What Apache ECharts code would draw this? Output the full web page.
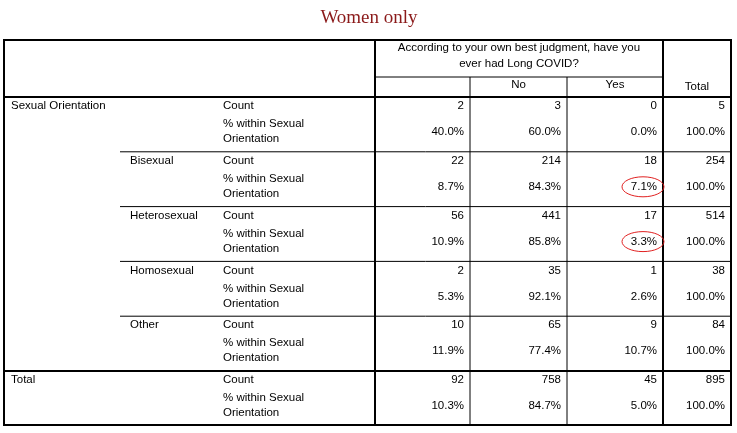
<!DOCTYPE html>
<html><head><meta charset="utf-8">
<script src="https://cdn.jsdelivr.net/npm/echarts@6/dist/echarts.min.js"></script>
<style>html,body{margin:0;padding:0;background:#fff}#c{width:737px;height:433px}</style>
</head><body><div id="c"></div>
<script>
const title = "Women only";
const question = ["According to your own best judgment, have you", "ever had Long COVID?"];
const colHeaders = ["", "No", "Yes"];
const totalHeader = "Total";
const rowVar = "Sexual Orientation";
const categories = ["", "Bisexual", "Heterosexual", "Homosexual", "Other"];
const counts = [[2,3,0,5],[22,214,18,254],[56,441,17,514],[2,35,1,38],[10,65,9,84]];
const pcts = [["40.0%","60.0%","0.0%","100.0%"],["8.7%","84.3%","7.1%","100.0%"],["10.9%","85.8%","3.3%","100.0%"],["5.3%","92.1%","2.6%","100.0%"],["11.9%","77.4%","10.7%","100.0%"]];
const totalCounts = [92, 758, 45, 895];
const totalPcts = ["10.3%","84.7%","5.0%","100.0%"];
const statLabels = ["Count", ["% within Sexual", "Orientation"]];
const circled = [[1,2],[2,2]];

const L=4,R=731,T=40,B=425;
const cx=[120,218,375,470,567,663,731];
const H1=77,H2=97,GH=54.8;
const F='"Liberation Sans", Arial, sans-serif';
const els=[];
function line(x1,y1,x2,y2,w){els.push({type:'line',shape:{x1,y1,x2,y2},style:{stroke:'#000',lineWidth:w||1}});}
function txt(x,y,t,align){els.push({type:'text',x,y,style:{text:t,font:'11.5px '+F,fill:'#000',align:align||'left',verticalAlign:'middle'}});}
els.push({type:'text',x:369,y:18,style:{text:title,font:'19px "Liberation Serif", "Times New Roman", serif',fill:'#8b1a1a',align:'center',verticalAlign:'middle'}});
els.push({type:'rect',shape:{x:L,y:T,width:R-L,height:B-T},style:{fill:'none',stroke:'#000',lineWidth:2}});
line(cx[2],T,cx[2],B,2); line(cx[5],T,cx[5],B,2);
line(cx[3],H1,cx[3],B); line(cx[4],H1,cx[4],B);
line(cx[2],H1,cx[5],H1);
line(L,H2,R,H2,2);
txt((cx[2]+cx[5])/2,48,question[0],'center');
txt((cx[2]+cx[5])/2,64,question[1],'center');
colHeaders.forEach((h,j)=>{ if(h) txt((cx[2+j]+cx[3+j])/2,85,h,'center'); });
txt((cx[5]+cx[6])/2,87,totalHeader,'center');
const vx=[cx[3]-6,cx[4]-6,cx[5]-6,cx[6]-6];
function group(top,cnt,pct){
  txt(cx[1]+5,top+9,statLabels[0]);
  txt(cx[1]+5,top+27,statLabels[1][0]);txt(cx[1]+5,top+42,statLabels[1][1]);
  cnt.forEach((v,j)=>txt(vx[j],top+9,String(v),'right'));
  pct.forEach((v,j)=>txt(vx[j],top+35,v,'right'));
}
categories.forEach((c,i)=>{
  const top=H2+i*GH;
  if(i>0) line(cx[0],top,R,top);
  if(c) txt(cx[0]+10,top+9,c);
  group(top,counts[i],pcts[i]);
});
txt(L+7,H2+9,rowVar);
const tt=H2+5*GH;
line(L,tt,R,tt,2);
txt(L+7,tt+9,'Total');
group(tt,totalCounts,totalPcts);
circled.forEach(([i,j])=>{
  const top=H2+i*GH;
  els.push({type:'ellipse',shape:{cx:vx[j]-14,cy:top+35,rx:21,ry:10},style:{fill:'none',stroke:'#e02020',lineWidth:1}});
});
const chart=echarts.init(document.getElementById('c'));
chart.setOption({animation:false,graphic:{elements:els}});
</script></body></html>
